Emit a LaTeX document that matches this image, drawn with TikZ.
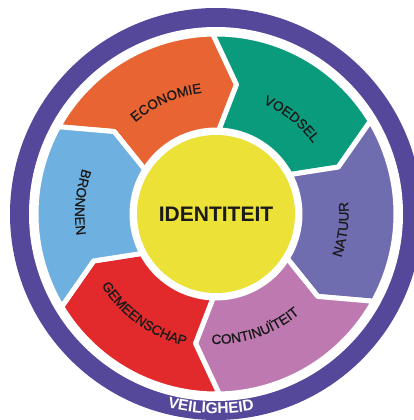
\documentclass[tikz,border=0pt]{standalone}
\usepackage{fontspec}
\setmainfont{Liberation Sans}
\newfontfamily\labelfam{Liberation Sans}[FakeBold=0.8]
\usetikzlibrary{decorations.text}
\definecolor{ringc}{HTML}{55479A}
\definecolor{orangec}{HTML}{E86432}
\definecolor{greenc}{HTML}{0A9B7D}
\definecolor{natc}{HTML}{706CB0}
\definecolor{pinkc}{HTML}{BE7AB0}
\definecolor{redc}{HTML}{E22A2C}
\definecolor{bluec}{HTML}{6EB0E0}
\definecolor{yelc}{HTML}{ECE137}
\definecolor{txtc}{HTML}{1A1A1A}
\newcommand\segfont{\labelfam\fontsize{13.6}{13.6}\selectfont\color{txtc}}
\newcommand\ringfont{\fontsize{15.5}{15.5}\selectfont\bfseries\color{white}}
\newcommand\segpiece[2]{%
  \filldraw[segstyle, fill=#2] (#1:180) -- ({#1-10}:131) -- ({#1-3}:84)
    arc[start angle={#1-3}, end angle={#1+57}, radius=84]
    -- ({#1+50}:131) -- ({#1+60}:180)
    arc[start angle={#1+60}, end angle={#1}, radius=180] -- cycle;}
% clockwise label (tops outward)
\newcommand\lblcw[4]{%
  \path[decorate, decoration={text along path, text align=center, text={|#4|#3}}]
    ({#1+40}:#2) arc[start angle={#1+40}, end angle={#1-40}, radius=#2];}
% counterclockwise label (tops inward)
\newcommand\lblccw[4]{%
  \path[decorate, decoration={text along path, text align=center, text={|#4|#3}}]
    ({#1-40}:#2) arc[start angle={#1-40}, end angle={#1+40}, radius=#2];}
\tikzset{segstyle/.style={draw=white, line width=5pt, line join=round}}
\begin{document}
\begin{tikzpicture}[x=1pt,y=1pt]
\useasboundingbox (0,0) rectangle (414,420);
\clip (0,0) rectangle (414,420);
\begin{scope}[shift={(216,206)}]
  \fill[ringc] (0,0) circle[radius=206];
  \fill[white] (0,0) circle[radius=187];
  \segpiece{91}{orangec}
  \segpiece{31}{greenc}
  \segpiece{-29}{natc}
  \segpiece{-89}{pinkc}
  \segpiece{-149}{redc}
  \segpiece{151}{bluec}
  \fill[white] (0,0) circle[radius=85];
  \node[circle, fill=yelc, minimum size=158pt, inner sep=0pt] (core) at (0,0) {};
  \node[text=txtc, inner sep=0pt] (idt) at (0,0) {\fontsize{21}{21}\selectfont\bfseries IDENTITEIT};
  \lblcw{114}{122}{ECONOMIE}{\segfont}
  \lblcw{51.5}{120}{VOEDSEL}{\segfont}
  \lblccw{-7}{132.5}{NATUUR}{\segfont}
  \lblccw{-71}{130}{CONTINUÏTEIT}{\segfont}
  \lblccw{-125.6}{135}{GEMEENSCHAP}{\segfont}
  \lblccw{175}{141}{BRONNEN}{\segfont}
  \lblccw{-91.5}{199.5}{VEILIGHEID}{\ringfont}
\end{scope}
\end{tikzpicture}
\end{document}
